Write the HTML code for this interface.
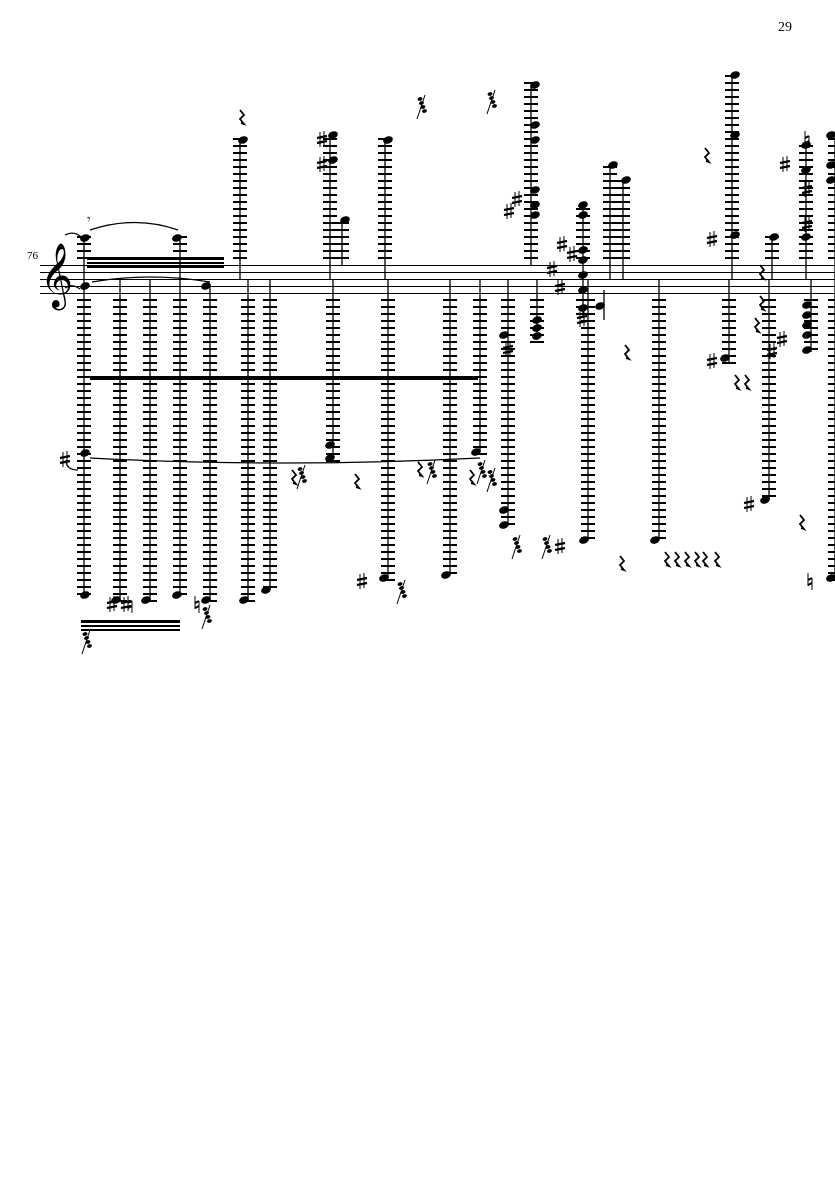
<!DOCTYPE html>
<html><head><meta charset="utf-8"><style>
html,body{margin:0;padding:0;background:#fff;width:835px;height:1181px;overflow:hidden}
svg{display:block}
text{font-family:"Liberation Serif","DejaVu Serif",serif}
</style></head><body>
<svg id="s" width="835" height="1181" xmlns="http://www.w3.org/2000/svg">
<text x="778" y="31" font-size="14">29</text>
<text x="27" y="259" font-size="11">76</text>
<g stroke="#000" stroke-width="1">
<line x1="40" y1="265.5" x2="835" y2="265.5"/>
<line x1="40" y1="272.5" x2="835" y2="272.5"/>
<line x1="40" y1="279.5" x2="835" y2="279.5"/>
<line x1="40" y1="286.5" x2="835" y2="286.5"/>
<line x1="40" y1="293.5" x2="835" y2="293.5"/>
</g>
<text x="40" y="294" font-size="56" style="font-family:'DejaVu Sans',sans-serif">𝄞</text>
<g id="g"></g>
<rect x="90" y="376" width="388" height="4" fill="#000"/>
<rect x="87" y="257" width="137" height="3" fill="#000"/>
<rect x="87" y="262" width="137" height="2" fill="#000"/>
<rect x="87" y="266" width="137" height="2" fill="#000"/>
<rect x="81" y="620" width="99" height="3" fill="#000"/>
<rect x="81" y="625" width="99" height="2" fill="#000"/>
<rect x="81" y="629" width="99" height="2" fill="#000"/>
<g fill="none" stroke="#000" stroke-width="1.2">
<path d="M90 458 Q280 468 480 458"/>
<path d="M90 230 Q135 215 178 230"/>
<path d="M92 282 Q150 272 210 282"/>
<path d="M65 235 Q75 230 82 238"/>
<path d="M65 288 Q72 283 80 289"/>
<path d="M66 460 Q66 470 78 470"/>
</g>
</svg>
<script>
var g=document.getElementById('g'),h='';
function L(x1,y1,x2,y2,w){h+='<line x1="'+x1+'" y1="'+y1+'" x2="'+x2+'" y2="'+y2+'" stroke="#000" stroke-width="'+(w||1)+'"/>';}
function N(x,y,r){r=r||1;h+='<ellipse cx="'+x+'" cy="'+y+'" rx="'+(5*r)+'" ry="'+(3.6*r)+'" transform="rotate(-20 '+x+' '+y+')" fill="#000"/>';}
function T(x,y,t,s){h+='<text x="'+x+'" y="'+y+'" font-size="'+(s||16)+'" style="font-family:\'DejaVu Sans\',sans-serif">'+t+'</text>';}
function SH(x,y){L(x-2,y-8,x-2,y+7,1);L(x+2,y-9,x+2,y+6,1);L(x-5,y-2,x+5,y-4,2.2);L(x-5,y+3,x+5,y+1,2.2);}
function NA(x,y){L(x-2,y-9,x-2,y+4,1);L(x+2,y-4,x+2,y+8,1);L(x-2,y-2,x+2,y-4,2);L(x-2,y+3,x+2,y+1,2);}
function R(x,y){h+='<path d="M'+x+' '+y+' l4 5 l-4 4 l4 5 l-3 -1" fill="none" stroke="#000" stroke-width="1.8"/>';}
function S(x,a,b,notes,nx){
 L(x,a,x,b,1.3);
 for(var y=258;y>=a-2;y-=7)L(x-7,y,x+7,y,2);
 for(var y=300;y<=b+2;y+=7)L(x-7,y,x+7,y,2);
 (notes||[]).forEach(function(n){N(x+(nx||0),n)});
}
S(84,238,595,[238,286,453,595],1);
S(120,279,600,[600],-4);S(150,279,600,[600],-4);S(180,238,595,[238,595],-3);
S(210,286,600,[286,600],-4);S(240,140,279,[140],3);S(248,279,600,[600],-4);S(270,279,590,[590],-4);
S(330,135,279,[135,160],3);S(333,279,460,[445,458],-3);S(342,220,265,[220],3);
S(385,140,279,[140],3);S(388,279,578,[578],-4);S(450,279,575,[575],-4);S(480,279,452,[452],-4);
S(508,279,525,[335,510,525],-4);S(531,85,265,[85,125,140,190,205,215],4);S(537,279,340,[320,328,336],0);
S(583,205,318,[205,215,250,260,275,290,308],0);S(588,279,540,[540],-4);
L(604,290,604,320,1.3);N(600,306);
S(610,165,279,[165],3);S(623,180,279,[180],3);S(659,279,540,[540],-4);
S(732,75,279,[75,135,235],3);S(729,279,362,[358],-4);S(772,237,279,[237],2);S(769,279,500,[500],-4);
S(806,145,279,[145,170,237],0);S(811,279,352,[305,315,325,335,350],-4);
S(835,135,580,[135,165,180,578],-4);
[[120,605],[330,140],[330,165],[73,460],[370,582],[134,605],[757,505],[568,547],[517,212],[525,200],[570,245],[560,270],[568,288],[516,350],[580,255],[590,320],[720,362],[720,240],[780,352],[790,340],[793,165],[815,190],[815,225]].forEach(function(p){SH(p[0]-8,p[1])});
[[138,605],[205,605],[815,140],[818,582]].forEach(function(p){NA(p[0]-8,p[1])});
[[240,110],[355,474],[625,345],[705,148],[760,265],[755,318],[760,296],[800,515],[620,556],[715,552],[665,552],[675,552],[685,552],[695,552],[703,552],[292,470],[418,462],[470,470],[735,375],[745,375]].forEach(function(p){R(p[0],p[1])});
[[300,475],[430,470],[480,470],[490,478],[515,545],[545,545],[420,105],[490,100],[400,590],[205,615],[85,640]].forEach(function(p){for(var i=0;i<4;i++)N(p[0]+i*1.5,p[1]+i*4-6,0.5);L(p[0]-3,p[1]+14,p[0]+5,p[1]-10,1)});
T(87,224,'𝄾',14);
</script>
<script>g.innerHTML=h;</script>
</body></html>
